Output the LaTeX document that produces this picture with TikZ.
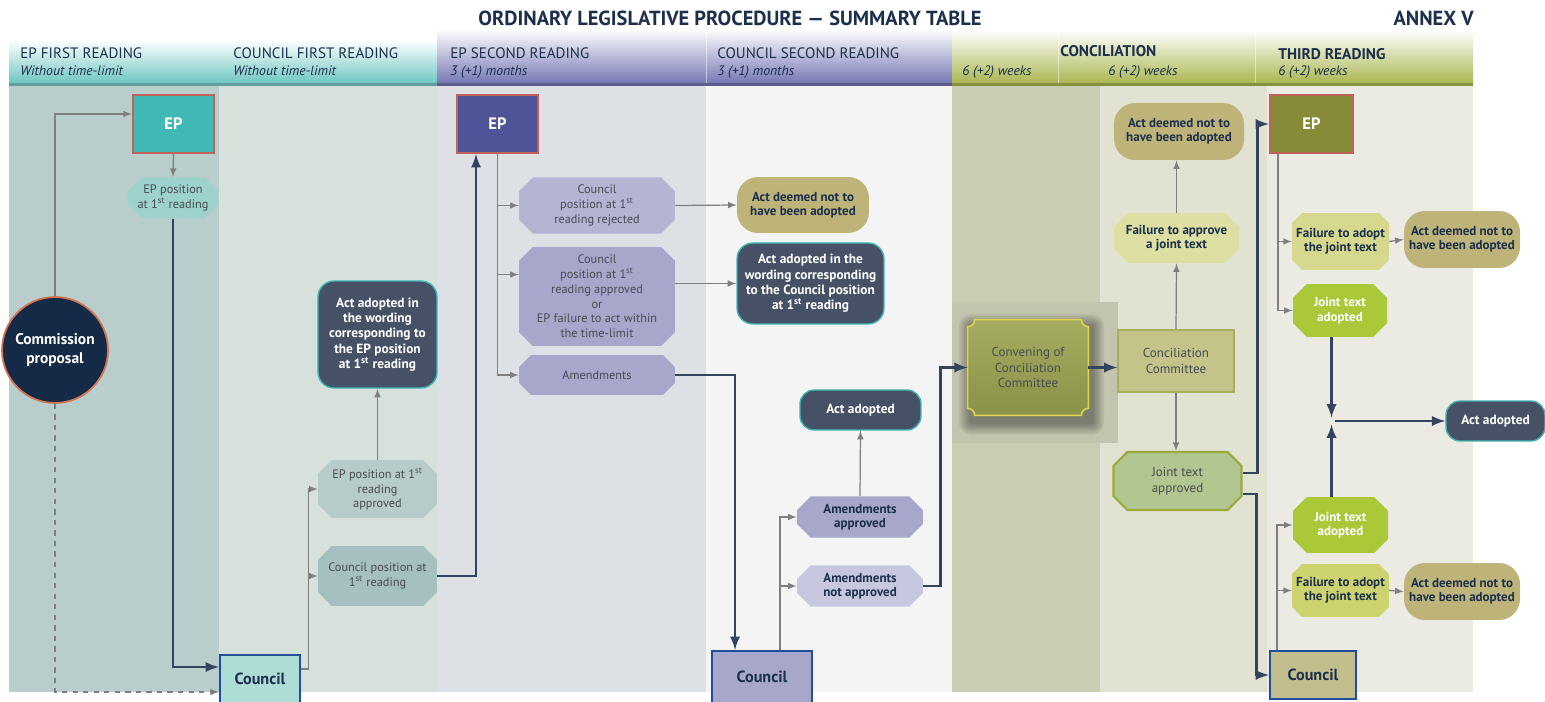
\documentclass[tikz,border=0pt]{standalone}
\usepackage{fontspec}
\setmainfont{PT Sans}
\usepackage{tikz}
\usetikzlibrary{arrows,shapes,positioning,shadows}
\definecolor{navy}{HTML}{1C2F4C}
\definecolor{txtgrey}{HTML}{474B52}
\definecolor{flownavy}{HTML}{34445F}
\definecolor{flowgrey}{HTML}{7F7F7F}
\definecolor{epred}{HTML}{C0625A}
\definecolor{coblue}{HTML}{1F4F9A}
\definecolor{actfill}{HTML}{465166}
\definecolor{actteal}{HTML}{3FB5B3}
\definecolor{deemedfill}{HTML}{BEB47A}
\definecolor{cpfill}{HTML}{152A46}
\definecolor{cpedge}{HTML}{D4714F}
\definecolor{hteal}{HTML}{6CC5C1}
\definecolor{hpurple}{HTML}{7476B3}
\definecolor{holive}{HTML}{A9B64F}
\definecolor{bgone}{HTML}{B8CDCC}
\definecolor{bgtwo}{HTML}{D6E1DC}
\definecolor{bgthree}{HTML}{DDE1E5}
\definecolor{bgfour}{HTML}{F4F4F4}
\definecolor{bgfive}{HTML}{C9CDB3}
\definecolor{bgfiveb}{HTML}{E1E2D2}
\definecolor{bgsix}{HTML}{EBEBE4}
\definecolor{bgconv}{HTML}{C3C4AE}
\pgfdeclarelayer{bg}
\pgfsetlayers{bg,main}
\tikzset{
    basic/.style = {align=center, inner sep=1pt, text=txtgrey, font=\fontsize{7}{8.4}\selectfont},
    oct entry/.style = {basic, chamfered rectangle, chamfered rectangle xsep=0.16cm},
    oct bold/.style = {oct entry, text=navy, font=\bfseries\fontsize{7.4}{8.2}\selectfont},
    oct tight/.style = {oct bold, inner xsep=0pt, chamfered rectangle xsep=0.08cm},
    house box/.style = {rectangle, line width=1.3pt, align=center, minimum width=1.62cm, minimum height=1.16cm},
    ep entry/.style = {house box, draw=epred, text=white, font=\bfseries\fontsize{9.4}{10}\selectfont},
    council entry/.style = {house box, draw=coblue, text=navy, font=\bfseries\fontsize{9.2}{10}\selectfont},
    deemed entry/.style = {basic, rounded corners=0.42cm, fill=deemedfill, text=navy, font=\bfseries\fontsize{7.4}{8}\selectfont},
    adopted entry/.style = {basic, rounded corners=0.32cm, fill=actfill, draw=actteal, line width=0.8pt, text=white, font=\bfseries\fontsize{7.6}{8.7}\selectfont},
    head/.style = {anchor=base west, inner sep=0pt, text=navy, font=\fontsize{8.6}{9}\selectfont},
    head time/.style = {head, font=\itshape\fontsize{7.8}{9}\selectfont},
    main flow/.style = {draw=flownavy, line width=1.6pt, ->},
    side flow/.style = {draw=flowgrey, line width=0.7pt, ->}
}
\begin{document}
\begin{tikzpicture}[x=0.02cm, y=-0.02cm, >=latex]
\useasboundingbox (0,0) rectangle (1545,702);
\begin{pgfonlayer}{bg}
    \fill[white] (0,0) rectangle (1545,702);
    % column bodies
    \fill[bgone] (9,86) rectangle (219,692);
    \fill[bgtwo] (219,86) rectangle (437,692);
    \fill[bgthree] (437,86) rectangle (706,692);
    \fill[bgfour] (706,86) rectangle (952,692);
    \fill[bgfive] (952,86) rectangle (1100,692);
    \fill[bgfiveb] (1100,86) rectangle (1267,692);
    \fill[bgsix] (1267,86) rectangle (1473,692);
    \fill[bgconv] (952,302) rectangle (1118,443);
    % header bands
    \shade[top color=white, bottom color=hteal] (9,40) rectangle (437,84);
    \fill[hteal!75!black!90] (9,83) rectangle (437,86);
    \shade[top color=white!94!hpurple, bottom color=hpurple] (437,32) rectangle (952,84);
    \fill[hpurple!80!black] (437,83) rectangle (952,86);
    \shade[top color=white!96!holive, bottom color=holive] (952,32) rectangle (1473,84);
    \fill[holive!80!black] (952,83) rectangle (1473,86);
    \draw[white, opacity=0.5, line width=0.4pt] (706,32) -- (706,83) (1058,32) -- (1058,83) (1255,32) -- (1255,83);
\end{pgfonlayer}

% titles
\node[anchor=base, inner sep=0pt, text=navy, font=\bfseries\fontsize{11.6}{12}\selectfont] (title) at (730,26) {ORDINARY LEGISLATIVE PROCEDURE — SUMMARY TABLE};
\node[anchor=base east, inner sep=0pt, text=navy, font=\bfseries\fontsize{11.6}{12}\selectfont] (annex) at (1474,26) {ANNEX V};
\node[head] (h1) at (20,59) {EP FIRST READING};
\node[head time] (h1t) at (20,76) {Without time-limit};
\node[head] (h2) at (233,59) {COUNCIL FIRST READING};
\node[head time] (h2t) at (233,76) {Without time-limit};
\node[head] (h3) at (450,59) {EP SECOND READING};
\node[head time] (h3t) at (450,76) {3 (+1) months};
\node[head] (h4) at (717,59) {COUNCIL SECOND READING};
\node[head time] (h4t) at (717,76) {3 (+1) months};
\node[head, font=\bfseries\fontsize{8.8}{9}\selectfont] (h5) at (1060,57) {CONCILIATION};
\node[head time] (h5a) at (962,76) {6 (+2) weeks};
\node[head time] (h5b) at (1108,76) {6 (+2) weeks};
\node[head, font=\bfseries\fontsize{8.8}{9}\selectfont] (h6) at (1278,60) {THIRD READING};
\node[head time] (h6t) at (1278,76) {6 (+2) weeks};

% first reading
\node[circle, fill=cpfill, draw=cpedge, line width=1pt, minimum size=2.12cm, text=white, align=center, font=\bfseries\fontsize{8.8}{10.5}\selectfont] (cp) at (55,350) {Commission\\proposal};
\node[ep entry, fill={rgb,255:red,64;green,184;blue,182}] (ep1) at (173.5,124) {EP};
\node[oct entry, fill={rgb,255:red,158;green,210;blue,204}, minimum width=1.72cm, minimum height=0.72cm] (eppos1) at (173,198) {EP position\\at 1\textsuperscript{st} reading};
\node[council entry, fill={rgb,255:red,174;green,220;blue,215}, minimum width=1.6cm, minimum height=0.96cm] (co1) at (260,679) {Council};
\node[adopted entry, minimum width=2.38cm, minimum height=2.14cm] (actep) at (377.5,334.5) {Act adopted in\\the wording\\corresponding to\\the EP position\\at 1\textsuperscript{st} reading};
\node[oct entry, fill={rgb,255:red,183;green,203;blue,201}, minimum width=2.38cm, minimum height=1.16cm] (epappr) at (377.5,489) {EP position at 1\textsuperscript{st}\\reading\\approved};
\node[oct entry, fill={rgb,255:red,166;green,191;blue,191}, minimum width=2.38cm, minimum height=1.2cm] (copos) at (377.5,576) {Council position at\\1\textsuperscript{st} reading};

% second reading
\node[ep entry, fill={rgb,255:red,79;green,84;blue,152}] (ep2) at (497.5,124) {EP};
\node[oct entry, fill={rgb,255:red,179;green,181;blue,211}, minimum width=3.12cm, minimum height=1.1cm] (corej) at (597,205.5) {Council\\position at 1\textsuperscript{st}\\reading rejected};
\node[oct entry, fill={rgb,255:red,166;green,167;blue,203}, minimum width=3.12cm, minimum height=1.98cm] (coappr) at (597,296.5) {Council\\position at 1\textsuperscript{st}\\reading approved\\or\\EP failure to act within\\the time-limit};
\node[oct entry, fill={rgb,255:red,166;green,167;blue,203}, minimum width=3.12cm, minimum height=0.8cm] (amend) at (597,375) {Amendments};
\node[deemed entry, minimum width=2.64cm, minimum height=1.12cm] (deemed2) at (803,205) {Act deemed not to\\have been adopted};
\node[adopted entry, minimum width=2.94cm, minimum height=1.62cm] (actco) at (810.5,283.5) {Act adopted in the\\wording corresponding\\to the Council position\\at 1\textsuperscript{st} reading};
\node[adopted entry, rounded corners=0.28cm, minimum width=2.42cm, minimum height=0.8cm] (adopt4) at (860.5,410) {Act adopted};
\node[oct bold, fill={rgb,255:red,166;green,167;blue,203}, minimum width=2.52cm, minimum height=0.8cm] (amappr) at (860,517) {Amendments\\approved};
\node[oct bold, fill={rgb,255:red,199;green,199;blue,223}, minimum width=2.52cm, minimum height=0.8cm] (amnot) at (860,586) {Amendments\\not approved};
\node[council entry, fill={rgb,255:red,166;green,167;blue,203}, minimum width=2cm, minimum height=1.04cm] (co2) at (762,677) {Council};

% conciliation
\node[basic, minimum width=2.4cm, minimum height=1.9cm, font=\fontsize{7.4}{9}\selectfont] (conv) at (1028,367.5) {Convening of\\Conciliation\\Committee};
\begin{pgfonlayer}{bg}
\begin{scope}[x=1cm, y=1cm]
    \foreach \s in {1,...,7}
        \fill[black, opacity=0.06, rounded corners=\s pt]
            ([xshift={(2-\s)*1pt}, yshift={(\s-4)*1pt}]conv.north west) rectangle ([xshift={(2+\s)*1pt}, yshift={(-4-\s)*1pt}]conv.south east);
    \path[top color={rgb,255:red,166;green,172;blue,95}, bottom color={rgb,255:red,138;green,146;blue,72}, draw={rgb,255:red,222;green,212;blue,80}, line width=0.9pt]
        ([xshift=.14cm]conv.north west) -- ([xshift=-.14cm]conv.north east)
        arc[start angle=180, end angle=270, radius=.14cm] -- ([yshift=.14cm]conv.south east)
        arc[start angle=90, end angle=180, radius=.14cm] -- ([xshift=.14cm]conv.south west)
        arc[start angle=0, end angle=90, radius=.14cm] -- ([yshift=-.14cm]conv.north west)
        arc[start angle=270, end angle=360, radius=.14cm] -- cycle;
\end{scope}
\end{pgfonlayer}
\node[basic, rectangle, fill={rgb,255:red,196;green,196;blue,138}, draw={rgb,255:red,169;green,174;blue,91}, line width=0.6pt, minimum width=2.32cm, minimum height=1.24cm, font=\fontsize{7.4}{9}\selectfont] (cc) at (1176,361) {Conciliation\\Committee};
\node[oct bold, fill={rgb,255:red,221;green,224;blue,162}, minimum width=2.5cm, minimum height=1cm] (failjt) at (1176.5,238) {Failure to approve\\a joint text};
\node[deemed entry, minimum width=2.6cm, minimum height=1.14cm] (deemed5) at (1179,131.5) {Act deemed not to\\have been adopted};
\node[oct entry, fill={rgb,255:red,178;green,198;blue,143}, draw={rgb,255:red,154;green,171;blue,60}, line width=1.2pt, minimum width=2.56cm, minimum height=1.16cm, font=\fontsize{7.4}{9}\selectfont] (jtappr) at (1177.5,481) {Joint text\\approved};

% third reading
\node[ep entry, fill={rgb,255:red,135;green,139;blue,55}, minimum width=1.66cm] (ep3) at (1311.5,124) {EP};
\node[oct tight, fill={rgb,255:red,214;green,217;blue,141}, minimum width=1.9cm, minimum height=1.14cm] (fail6a) at (1340.5,241.5) {Failure to adopt\\the joint text};
\node[deemed entry, minimum width=2.32cm, minimum height=1.14cm] (deemed6a) at (1462,239.5) {Act deemed not to\\have been adopted};
\node[oct bold, text=white, fill={rgb,255:red,171;green,200;blue,56}, minimum width=1.88cm, minimum height=1.06cm] (jtad6a) at (1340,310.5) {Joint text\\adopted};
\node[adopted entry, rounded corners=0.28cm, minimum width=1.98cm, minimum height=0.8cm] (adopt6) at (1495.5,421) {Act adopted};
\node[oct bold, text=white, fill={rgb,255:red,171;green,200;blue,56}, minimum width=1.9cm, minimum height=1.12cm] (jtad6b) at (1340.5,525) {Joint text\\adopted};
\node[oct tight, fill={rgb,255:red,205;green,211;blue,110}, minimum width=1.9cm, minimum height=1.06cm] (fail6b) at (1340.5,590.5) {Failure to adopt\\the joint text};
\node[deemed entry, minimum width=2.32cm, minimum height=1.14cm] (deemed6b) at (1462,591.5) {Act deemed not to\\have been adopted};
\node[council entry, fill={rgb,255:red,194;green,189;blue,141}, minimum width=1.72cm, minimum height=0.96cm] (co3) at (1313,675) {Council};

% connectors, first reading
\draw[side flow] (cp.north) |- ([yshift=.2cm]ep1.west);
\draw[side flow, dashed] (cp.south) |- ([yshift=-.26cm]co1.west);
\draw[side flow] (ep1.south) -- (eppos1.north);
\draw[main flow] (eppos1.south) |- ([yshift=.24cm]co1.west);
\draw[side flow] ([yshift=.2cm]co1.east) -- ++(7,0) coordinate (t1) |- (epappr.west);
\draw[side flow] (t1 |- copos.west) -- (copos.west);
\draw[side flow] (epappr.north) -- (actep.south);
\draw[main flow] (copos.east) -| ([xshift=-.43cm]ep2.south);

% connectors, second reading
\draw[side flow] (ep2.south) |- (amend.west);
\draw[side flow] (ep2.south |- corej.west) -- (corej.west);
\coordinate (t2) at ([yshift=.44cm]coappr.west);
\draw[side flow] (ep2.south |- t2) -- (t2);
\draw[side flow] (corej.east) -- (deemed2.west);
\draw[side flow] (coappr.east |- actco.west) -- (actco.west);
\draw[main flow] (amend.east) -| ([xshift=-.54cm]co2.north);
\coordinate (t4) at ([xshift=.36cm]co2.north);
\draw[side flow] (t4) |- (amappr.west);
\draw[side flow] (t4 |- amnot.west) -- (amnot.west);
\draw[side flow] (amappr.north) -- (adopt4.south);
\draw[main flow] (amnot.east) -- ++(17,0) |- (conv.west);

% connectors, conciliation
\draw[main flow] (conv.east) -- (conv.east -| cc.west);
\draw[side flow] (cc.north) -- (failjt.south);
\draw[side flow] (failjt.north) -- (failjt.north |- deemed5.south);
\draw[side flow] (cc.south) -- (cc.south |- jtappr.north);
\draw[main flow] ([yshift=.16cm]jtappr.east) -- ++(15,0) |- (ep3.west);
\draw[main flow] ([yshift=-.26cm]jtappr.east) -- ++(14,0) |- (co3.west);

% connectors, third reading
\coordinate (t6) at ([xshift=-.67cm]ep3.south);
\draw[side flow] (t6) |- (jtad6a.west);
\draw[side flow] (t6 |- fail6a.west) -- (fail6a.west);
\draw[side flow] (fail6a.east) -- (deemed6a.west);
\coordinate (j0) at ([xshift=-.17cm]jtad6a.south);
\coordinate (jn) at (j0 |- adopt6.west);
\draw[main flow] (j0) -- ([yshift=2pt]jn);
\draw[main flow] (j0 |- jtad6b.north) -- ([yshift=-2pt]jn);
\draw[main flow] ([xshift=2pt]jn) -- (adopt6.west);
\coordinate (t7) at ([xshift=-.72cm]co3.north);
\draw[side flow] (t7) |- (jtad6b.west);
\draw[side flow] (t7 |- fail6b.west) -- (fail6b.west);
\draw[side flow] (fail6b.east) -- (deemed6b.west);
\end{tikzpicture}
\end{document}
